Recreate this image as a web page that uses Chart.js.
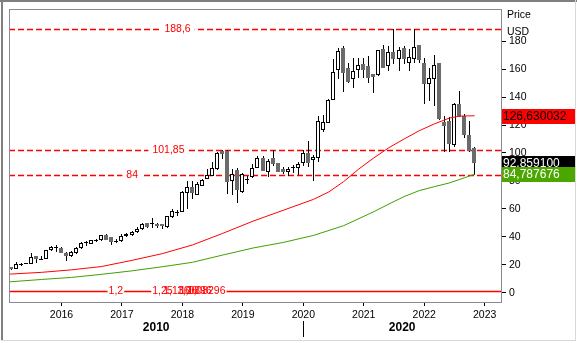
<!DOCTYPE html>
<html><head><meta charset="utf-8">
<script src="https://cdn.jsdelivr.net/npm/chart.js@4/dist/chart.umd.min.js"></script>
<style>html,body{margin:0;padding:0;background:#fff;overflow:hidden}#wrap{width:577px;height:343px;position:relative}</style>
</head><body><div id="wrap"><canvas id="c" width="577" height="343"></canvas></div>
<script>
// ---- data ----
const firstYear = 2015, firstMonth = 3; // first monthly candle: March 2015
const opens = [18.2,17.1,20.3,20.9,20.9,26.1,23.3,24.5,30.4,32.3,
32.3,28.5,26.4,28.5,32.1,35.6,35.2,37.2,37.5,41.1,
39.7,36.9,36.8,40.4,41.1,43.4,45.9,49.6,49.2,49.4,
49.4,47.0,53.9,57.1,57.7,71.5,75.5,70.1,76.7,81.5,
83.8,88.6,101.6,101.6,80.3,88.1,71.9,81.3,82.6,89.0,
96.2,86.7,96.2,92.9,88.6,86.2,89.5,89.0,92.9,100.0,
95.0,96.2,116.4,121.8,138.0,159.1,174.8,161.0,152.7,159.1,
163.4,162.2,156.3,155.6,174.1,162.2,172.1,167.4,174.8,164.1,
167.4,177.1,164.5,149.6,152.7,164.1,122.3,123.0,105.7,134.9,
126.6,113.0,103.3];
const highs = [18.6,21.9,21.6,21.6,28.5,26.4,26.1,30.9,33.8,34.2,
32.5,29.2,29.8,33.0,36.0,37.0,37.6,38.5,41.6,42.2,
39.8,38.5,41.8,42.5,44.5,47.0,49.6,50.1,53.7,49.8,
49.5,55.2,60.1,58.9,73.0,80.3,80.3,79.2,81.5,88.6,
93.8,101.0,101.9,101.85,88.6,89.0,85.5,83.8,92.2,97.6,
97.6,95.7,102.4,93.0,89.8,89.8,91.4,93.3,102.4,108.8,
98.6,126.6,127.1,138.5,167.2,174.8,176.9,164.5,168.1,168.1,
168.1,169.3,156.5,174.0,177.6,176.4,188.6,175.5,176.4,174.5,
188.6,177.5,168.1,161.0,169.8,164.5,126.6,126.0,136.0,144.3,
128.0,123.0,104.2];
const lows = [16.3,16.7,19.2,20.5,20.4,21.4,23.1,24.1,29.9,29.5,
28.1,22.8,25.7,28.0,31.6,33.5,35.0,36.5,37.0,37.5,
34.5,35.5,36.3,40.0,40.4,42.7,45.2,46.2,46.6,46.2,
45.6,46.6,53.4,54.8,57.5,60.1,67.2,69.6,76.2,81.3,
83.6,88.0,95.7,70.5,70.1,64.4,71.4,77.9,82.3,89.0,
87.4,82.6,91.0,86.2,85.0,83.3,86.0,84.0,90.5,89.7,
80.3,93.3,114.7,121.5,137.7,153.1,143.7,150.3,146.7,153.8,
153.8,150.3,143.2,155.0,160.5,158.6,163.4,158.6,163.4,158.6,
164.5,164.5,134.9,137.2,133.7,123.5,100.4,100.4,104.5,125.5,
110.5,100.8,84.3];
const closes = [16.9,20.4,20.5,21.4,25.6,24.0,24.5,30.4,32.8,32.6,
28.5,26.4,29.2,32.3,35.6,36.0,37.5,37.5,41.1,38.0,
36.1,37.1,40.4,42.3,43.4,45.4,48.9,47.0,49.6,47.7,
47.7,54.8,58.2,57.5,72.4,75.5,71.5,77.9,81.0,84.5,
89.0,100.0,99.3,79.1,85.0,73.6,84.8,81.6,89.0,96.2,
87.4,94.5,92.2,86.7,86.2,88.6,89.9,92.2,100.0,92.9,
97.4,123.0,122.3,138.0,157.9,172.9,157.4,151.0,158.6,162.7,
159.3,153.8,154.6,173.4,161.0,172.1,166.9,173.6,166.9,168.6,
175.7,166.2,149.1,153.8,162.7,124.2,119.4,106.4,134.9,126.1,
112.8,101.6,92.8591];
// moving averages read at sample candles (candle index from first candle)
const redMaIdx  = [-1,0,6,12,18,24,30,36,42,48,54,60,63,66,69,72,75,78,81,84,87,89,92];
const redMaVals = [13.2,13.4,14.6,16.4,18.8,23.2,28.0,34.2,42.5,51.2,59.0,66.8,72.0,79.5,88.5,96.5,103.8,110.0,115.9,120.8,125.0,126.4,126.630032];
const greenMaIdx  = [-1,0,6,12,18,24,30,36,42,48,54,60,66,72,75,78,81,84,87,90,92];
const greenMaVals = [7.6,7.9,9.5,11.0,13.2,15.7,18.6,21.8,27.0,32.0,36.0,41.0,48.0,58.0,63.5,68.8,73.1,75.9,78.6,82.3,84.787676];
const levelValues = [188.6, 101.85, 84];
const levelLabels = ['188,6', '101,85', '84'];
const baseValue = 1.2;
const baseLabels = ['1,2', '1,25', '1,136', '1,06', '1,0896', '1,08296'];
const yTicks = [0,20,40,60,80,100,120,140,160,180];
const xTicks = [2016,2017,2018,2019,2020,2021,2022,2023];
const decades = [2010, 2020];
const lastLabels = [
  {value: 126.630032, text: '126,630032', bg: '#ff0000', fg: '#000000'},
  {value: 92.859100, text: '92,859100', bg: '#000000', fg: '#ffffff'},
  {value: 84.787676, text: '84,787676', bg: '#4ca600', fg: '#ffffff'}
];

// ---- helpers ----
const FONT = '"Liberation Sans", Arial, sans-serif';
const idxToX = i => firstYear + (firstMonth - 1 + i) / 12;
const candleUp = i => closes[i] >= opens[i];
const bodies = opens.map((o, i) => ({x: idxToX(i), y: [o, closes[i]]}));
const wicks = lows.map((l, i) => ({x: idxToX(i), y: [l, highs[i]]}));
const redMa = redMaIdx.map((k, j) => ({x: idxToX(k), y: redMaVals[j]}));
const greenMa = greenMaIdx.map((k, j) => ({x: idxToX(k), y: greenMaVals[j]}));

const xMin = 2015.132, xMax = 2023.270;

const levelPos = {'188,6': 2017.92, '101,85': 2017.77, '84': 2017.17};
const basePos = [2016.90, 2017.67, 2017.90, 2018.08, 2018.22, 2018.40];

// snap candle bars to whole pixels so they stay crisp
const snap = {
  id: 'snap',
  beforeDatasetsDraw(chart) {
    chart.data.datasets.forEach((ds, di) => {
      const meta = chart.getDatasetMeta(di);
      if (meta.type !== 'bar') return;
      meta.data.forEach(el => {
        const n = Math.floor(el.x);
        el.x = (Math.round(el.width) % 2 === 1) ? n + 0.5 : n;
        el.y = Math.round(el.y);
        el.base = Math.round(el.base);
        if (Math.abs(el.y - el.base) < 1) el.base = el.y + 1;
      });
    });
  }
};

const overlay = {
  id: 'overlay',
  beforeDatasetsDraw(chart) {
    const {ctx, chartArea: a, scales: {x, y}} = chart;
    ctx.save();
    ctx.font = '10.5px ' + FONT;
    ctx.textBaseline = 'middle';
    ctx.textAlign = 'center';
    // dashed level lines
    levelValues.forEach((v, k) => {
      const py = Math.round(y.getPixelForValue(v)) + 0.5;
      ctx.strokeStyle = '#ff0000';
      ctx.lineWidth = 1.4;
      ctx.setLineDash([6, 3]);
      ctx.beginPath(); ctx.moveTo(a.left, py); ctx.lineTo(a.right, py); ctx.stroke();
      ctx.setLineDash([]);
      const t = levelLabels[k];
      const cx = x.getPixelForValue(levelPos[t]);
      const w = ctx.measureText(t).width + 8;
      ctx.fillStyle = '#fff';
      ctx.fillRect(cx - w / 2, py - 6, w, 12);
      ctx.fillStyle = '#ff0000';
      ctx.fillText(t, cx, py);
    });
    // solid base line
    const by = Math.round(y.getPixelForValue(baseValue)) + 0.5;
    ctx.strokeStyle = '#ff0000';
    ctx.lineWidth = 1.4;
    ctx.beginPath(); ctx.moveTo(a.left, by); ctx.lineTo(a.right, by); ctx.stroke();
    baseLabels.forEach((t, k) => {
      const cx = x.getPixelForValue(basePos[k]);
      const w = ctx.measureText(t).width + 2;
      ctx.fillStyle = '#fff';
      ctx.fillRect(cx - w / 2, by - 5, w, 10);
    });
    baseLabels.forEach((t, k) => {
      const cx = x.getPixelForValue(basePos[k]);
      ctx.fillStyle = '#ff0000';
      ctx.fillText(t, cx, by);
    });
    ctx.restore();
  },
  afterDraw(chart) {
    const {ctx, chartArea: a, scales: {x, y}} = chart;
    ctx.save();
    // plot frame
    ctx.strokeStyle = '#8a8a96';
    ctx.lineWidth = 1;
    ctx.strokeRect(Math.round(a.left) + 0.5, Math.round(a.top) + 0.5, Math.round(a.right - a.left), Math.round(a.bottom - a.top));
    // outer frame
    ctx.fillStyle = '#7f7f7f';
    ctx.fillRect(0, 0, 577, 2);
    ctx.fillRect(1, 0, 2, 341);
    ctx.fillStyle = '#d8d8d8';
    ctx.fillRect(575, 0, 1, 341);
    ctx.fillRect(1, 340, 575, 1);
    // axis header
    ctx.fillStyle = '#000';
    ctx.font = '10.5px ' + FONT;
    ctx.textAlign = 'left';
    ctx.textBaseline = 'middle';
    ctx.fillText('Price', a.right + 6, 15);
    ctx.fillText('USD', a.right + 6, 32);
    // decade row
    ctx.font = 'bold 12px ' + FONT;
    ctx.textAlign = 'center';
    const segs = [[xMin, 2020], [2020, xMax]];
    decades.forEach((d, k) => {
      const c = (x.getPixelForValue(segs[k][0]) + x.getPixelForValue(segs[k][1])) / 2;
      ctx.fillText(String(d), c, 328);
    });
    const px = Math.round(x.getPixelForValue(2020)) + 0.5;
    ctx.strokeStyle = '#000';
    ctx.beginPath(); ctx.moveTo(px, 321); ctx.lineTo(px, 337); ctx.stroke();
    // last-value boxes
    ctx.font = '12px ' + FONT;
    ctx.textAlign = 'left';
    lastLabels.forEach(l => {
      const py = y.getPixelForValue(l.value);
      ctx.fillStyle = l.bg;
      ctx.fillRect(a.right + 1, Math.round(py - 7), 73, 15);
      ctx.fillStyle = l.fg;
      ctx.fillText(l.text, a.right + 2, py + 0.5);
    });
    ctx.restore();
  }
};

new Chart(document.getElementById('c'), {
  type: 'bar',
  data: {
    datasets: [
      {type: 'line', data: redMa, borderColor: '#ff0000', borderWidth: 1, pointRadius: 0, tension: 0, order: 0},
      {type: 'line', data: greenMa, borderColor: '#3f9f00', borderWidth: 1, pointRadius: 0, tension: 0, order: 0},
      {data: bodies, grouped: false, barThickness: 4, borderWidth: 1, borderSkipped: false, inflateAmount: 0,
       backgroundColor: c => candleUp(c.dataIndex) ? '#ffffff' : '#6b6b6b',
       borderColor: c => candleUp(c.dataIndex) ? '#000000' : '#6b6b6b', order: 1},
      {data: wicks, grouped: false, barThickness: 1, borderWidth: 0, backgroundColor: '#000000', inflateAmount: 0, order: 2}
    ]
  },
  options: {
    responsive: false, animation: false, events: [],
    layout: {padding: {left: 9, top: 8, right: 0, bottom: 0}},
    plugins: {legend: {display: false}, tooltip: {enabled: false}},
    scales: {
      x: {type: 'linear', min: xMin, max: xMax, offset: false,
          afterBuildTicks: s => { s.ticks = xTicks.map(v => ({value: v})); },
          afterFit: s => { s.height = 41; },
          ticks: {callback: v => String(v), color: '#000', font: {size: 10.5, family: FONT}, maxRotation: 0, autoSkip: false, padding: 3},
          grid: {drawOnChartArea: false, tickLength: 4, tickColor: '#000', offset: false},
          border: {display: false}},
      y: {position: 'right', min: -6.6, max: 202.8,
          afterBuildTicks: s => { s.ticks = yTicks.map(v => ({value: v})); },
          afterFit: s => { s.width = 76; },
          ticks: {color: '#000', font: {size: 10.5, family: FONT}, padding: 3},
          grid: {drawOnChartArea: false, tickLength: 5, tickColor: '#000'},
          border: {display: false}}
    }
  },
  plugins: [snap, overlay]
});
</script>
</body></html>
